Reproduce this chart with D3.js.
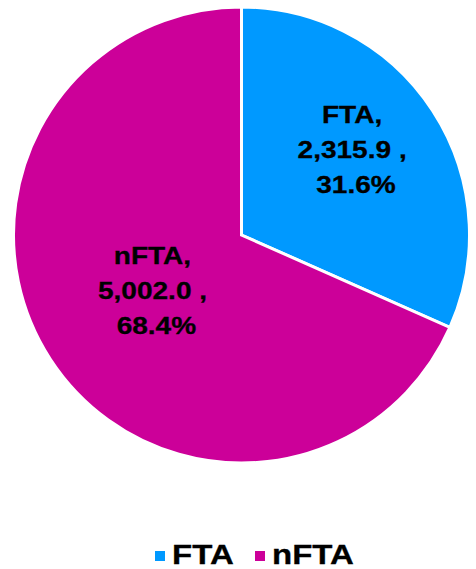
<!DOCTYPE html>
<html lang="en">
  <head>
    <meta charset="UTF-8" />
    <title>FTA vs nFTA</title>
    <style>
      * {
        margin: 0;
        padding: 0;
      }
      body {
        width: 476px;
        height: 569px;
        background: #fff;
        font-family: "Liberation Sans", Arial, sans-serif;
      }
      .lbl {
        font-weight: bold;
        font-size: 23px;
        fill: #000;
        stroke: #000;
        stroke-width: 0.3px;
      }
      .legend text {
        font-weight: bold;
        font-size: 28px;
        stroke: #000;
        stroke-width: 0.3px;
      }
    </style>
    <script src="https://cdn.jsdelivr.net/npm/d3@7"></script>
  </head>
  <body>
    <svg id="chart" width="476" height="569"></svg>
    <script>
      const categories = ["FTA", "nFTA"];
      const values = [2315.9, 5002.0];
      const percents = ["31.6%", "68.4%"];
      const colors = ["#0099FF", "#CC0099"];

      const svg = d3.select("#chart");
      const cx = 241.5,
        cy = 235,
        radius = 228;

      const color = d3.scaleOrdinal().domain(categories).range(colors);

      const pie = d3
        .pie()
        .sort(null)
        .value((d) => d.val);

      const data = categories.map((c, i) => ({
        key: c,
        val: values[i],
        pct: percents[i],
      }));

      const arcs = pie(data);
      const arc = d3.arc().innerRadius(0).outerRadius(radius);

      const g = svg
        .append("g")
        .attr("transform", "translate(" + cx + "," + cy + ")");

      g.selectAll("path")
        .data(arcs)
        .enter()
        .append("path")
        .attr("d", arc)
        .attr("fill", (d) => color(d.data.key))
        .attr("stroke", "#fff")
        .attr("stroke-width", 3)
        .attr("stroke-linejoin", "miter");

      // label radius differs per slice, like excel does it
      const labelR = [0.61, 0.45];
      const labelDx = [-6, -3];
      const labelDy = [-1, 8];
      const fmt = d3.format(",.1f");

      arcs.forEach((d, i) => {
        const la = d3
          .arc()
          .innerRadius(radius * labelR[i])
          .outerRadius(radius * labelR[i]);
        const [x, y] = la.centroid(d);
        // text in the picture is a bit wider than plain arial
        const t = g
          .append("text")
          .attr("class", "lbl")
          .attr("text-anchor", "middle")
          .attr("xml:space", "preserve")
          .attr(
            "transform",
            "translate(" +
              (x + labelDx[i]) +
              "," +
              (y + labelDy[i]) +
              ") scale(1.22,1)"
          );
        const lines = [d.data.key + ",", fmt(d.data.val) + " ,", " " + d.data.pct];
        lines.forEach((ln, j) => {
          t.append("tspan")
            .attr("x", 0)
            .attr("y", (j - 1) * 35)
            .text(ln);
        });
      });

      // legend
      const legend = svg.append("g").attr("class", "legend");
      const legX = [155, 255];
      categories.forEach((c, i) => {
        const lg = legend
          .append("g")
          .attr("transform", "translate(" + legX[i] + ",564)");
        lg.append("rect")
          .attr("x", 0)
          .attr("y", -13)
          .attr("width", 10)
          .attr("height", 10)
          .attr("fill", color(c));
        lg.append("text")
          .attr("transform", "translate(17,0) scale(1.18,1)")
          .text(c);
      });
    </script>
  </body>
</html>
